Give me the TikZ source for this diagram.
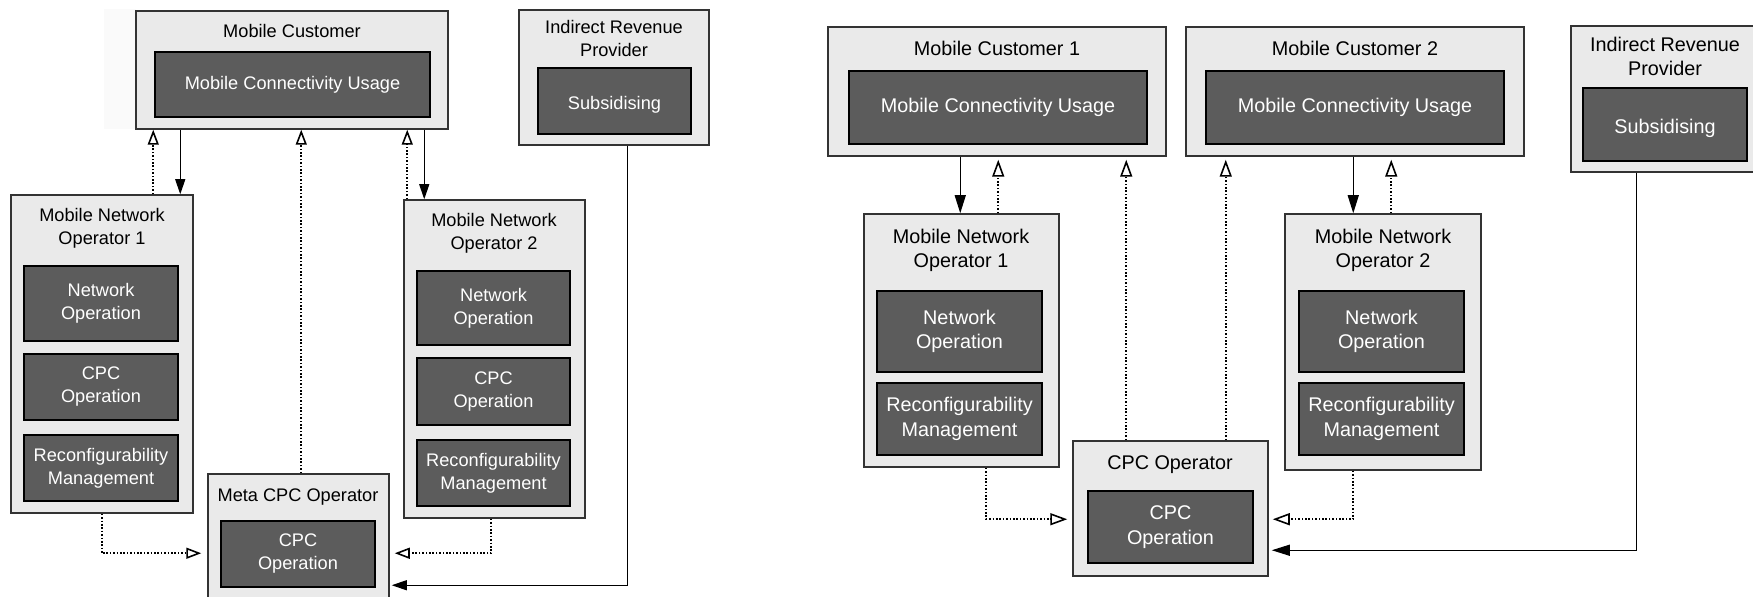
\documentclass[tikz,border=0pt]{standalone}
\usepackage{fontspec}
\setmainfont{Liberation Sans}
\usetikzlibrary{arrows.meta,fit,calc}
\definecolor{outerfill}{HTML}{EAEAEA}
\definecolor{innerfill}{HTML}{5C5C5C}
\definecolor{outerline}{HTML}{333333}
\begin{document}
\begin{tikzpicture}[x=0.5pt,y=-0.5pt,
  outer/.style={draw=outerline, fill=outerfill, line width=0.75pt, inner sep=0pt},
  inner/.style={draw=black, fill=innerfill, line width=1pt, inner sep=0pt},
  itxt/.style={text=white, align=center, inner sep=0pt},
  L/.style={font=\fontsize{9.1}{11.5}\selectfont},
  R/.style={font=\fontsize{9.9}{12.2}\selectfont},
  ttl/.style={align=center, inner sep=0pt, text=black},
  sarr/.style={line width=0.6pt, -{Triangle[length=7.5pt,width=5pt]}},
  sarrR/.style={line width=0.6pt, -{Triangle[length=9pt,width=5.5pt]}},
  darr/.style={line width=0.8pt, dash pattern=on 0.8pt off 0.9pt, -{Triangle[open,length=7.5pt,width=5.5pt]}},
  darrR/.style={line width=0.8pt, dash pattern=on 0.8pt off 0.9pt, -{Triangle[open,length=8.5pt,width=6pt]}}]
\clip (0,0) rectangle (1753,597);
\fill[black!2] (104,9) rectangle (136,129);
% ---------------- left diagram ----------------
\node[outer, fit={(136,11) (448,129)}] (mc) {};
\node[ttl,L] (mc-t) at (292,31) {Mobile Customer};
\node[inner, fit={(155,52) (430,117)}, label={[itxt,L]center:Mobile Connectivity Usage}] (mcu) {};

\node[outer, fit={(519,10) (709,145)}] (irp) {};
\node[ttl,L] (irp-t) at (614,39) {Indirect Revenue\\Provider};
\node[inner, fit={(538,68) (691,134)}, label={[itxt,L,yshift=-2pt]center:Subsidising}] (irps) {};

\node[outer, fit={(11,195) (193,513)}] (mno1) {};
\node[ttl,L] (mno1-t) at (102,228.5) {Mobile Network\\Operator 1};
\node[inner, fit={(24,266) (178,341)}, label={[itxt,L]center:Network\\Operation}] (no1) {};
\node[inner, fit={(24,354) (178,420)}, label={[itxt,L]center:CPC\\Operation}] (cpc1) {};
\node[inner, fit={(24,435) (178,501)}, label={[itxt,L]center:Reconfigurability\\Management}] (rm1) {};

\node[outer, fit={(404,200) (585,518)}] (mno2) {};
\node[ttl,L] (mno2-t) at (494,233.5) {Mobile Network\\Operator 2};
\node[inner, fit={(417,271) (570,345)}, label={[itxt,L]center:Network\\Operation}] (no2) {};
\node[inner, fit={(417,358) (570,425)}, label={[itxt,L]center:CPC\\Operation}] (cpc2) {};
\node[inner, fit={(417,440) (570,506)}, label={[itxt,L]center:Reconfigurability\\Management}] (rm2) {};

\node[outer, fit={(208,474) (389,610)}] (meta) {};
\node[ttl,L] (meta-t) at (298,497) {Meta CPC Operator};
\node[inner, fit={(221,521) (375,587)}, label={[itxt,L]center:CPC\\Operation}] (cpcm) {};

% connectors left
\draw[darr] ($(mno1.north west)+(143,0)$) coordinate (a1) -- (a1 |- mc.south);
\draw[sarr] ($(mc.south west)+(45,0)$) coordinate (a2) -- (a2 |- mno1.north);
\draw[darr] ($(meta.north west)+(94,0)$) coordinate (a3) -- (a3 |- mc.south);
\draw[darr] ($(mno2.north west)+(4,0)$) coordinate (a4) -- (a4 |- mc.south);
\draw[sarr] ($(mc.south west)+(289,0)$) coordinate (a5) -- (a5 |- mno2.north);
\draw[darr, shorten >=3pt] ($(mno1.south west)+(91.5,0)$) |- ($(meta.north west)+(0,80)$);
\draw[darr, shorten >=2.5pt] ($(mno2.south west)+(88,0)$) |- ($(meta.north east)+(0,80)$);
\draw[sarr, shorten >=1pt] ($(irp.south west)+(109.5,0)$) |- ($(meta.north east)+(0,112)$);

% ---------------- right diagram ----------------
\node[outer, fit={(828,27) (1166,156)}] (mc1) {};
\node[ttl,R] (mc1-t) at (997,48) {Mobile Customer 1};
\node[inner, fit={(849,71) (1147,144)}, label={[itxt,R]center:Mobile Connectivity Usage}] (mcu1) {};

\node[outer, fit={(1186,27) (1524,156)}] (mc2) {};
\node[ttl,R] (mc2-t) at (1355,48) {Mobile Customer 2};
\node[inner, fit={(1206,71) (1504,144)}, label={[itxt,R]center:Mobile Connectivity Usage}] (mcu2) {};

\node[outer, fit={(1571,26) (1759,172)}] (irpr) {};
\node[ttl,R] (irpr-t) at (1665,56.5) {Indirect Revenue\\Provider};
\node[inner, fit={(1583,88) (1747,161)}, label={[itxt,R,yshift=-2pt]center:Subsidising}] (irpsr) {};

\node[outer, fit={(864,214) (1059,467)}] (mnor1) {};
\node[ttl,R] (mnor1-t) at (961,250.5) {Mobile Network\\Operator 1};
\node[inner, fit={(877,291) (1042,372)}, label={[itxt,R]center:Network\\Operation}] (nor1) {};
\node[inner, fit={(877,383) (1042,455)}, label={[itxt,R]center:Reconfigurability\\Management}] (rmr1) {};

\node[outer, fit={(1285,214) (1481,470)}] (mnor2) {};
\node[ttl,R] (mnor2-t) at (1383,250.5) {Mobile Network\\Operator 2};
\node[inner, fit={(1299,291) (1464,372)}, label={[itxt,R]center:Network\\Operation}] (nor2) {};
\node[inner, fit={(1299,383) (1464,455)}, label={[itxt,R]center:Reconfigurability\\Management}] (rmr2) {};

\node[outer, fit={(1073,441) (1268,576)}] (cpco) {};
\node[ttl,R] (cpco-t) at (1170,465) {CPC Operator};
\node[inner, fit={(1088,491) (1253,563)}, label={[itxt,R]center:CPC\\Operation}] (cpcr) {};

% connectors right
\draw[sarrR] ($(mc1.south west)+(133,0)$) coordinate (b1) -- (b1 |- mnor1.north);
\draw[darrR, shorten >=1.5pt] ($(mnor1.north west)+(135,0)$) coordinate (b2) -- (b2 |- mc1.south);
\draw[darrR, shorten >=1.5pt] ($(cpco.north west)+(54,0)$) coordinate (b3) -- (b3 |- mc1.south);
\draw[darrR, shorten >=1.5pt] ($(cpco.north west)+(153.5,0)$) coordinate (b4) -- (b4 |- mc2.south);
\draw[sarrR] ($(mc2.south west)+(168,0)$) coordinate (b5) -- (b5 |- mnor2.north);
\draw[darrR, shorten >=1.5pt] ($(mnor2.north west)+(107,0)$) coordinate (b6) -- (b6 |- mc2.south);
\draw[darrR, shorten >=2.5pt] ($(mnor1.south west)+(123,0)$) |- ($(cpco.north west)+(0,79)$);
\draw[darrR, shorten >=2pt] ($(mnor2.south west)+(69,0)$) |- ($(cpco.north east)+(0,79)$);
\draw[sarrR, shorten >=1.5pt] ($(irpr.south west)+(66,0)$) |- ($(cpco.north east)+(0,110)$);
\end{tikzpicture}
\end{document}
